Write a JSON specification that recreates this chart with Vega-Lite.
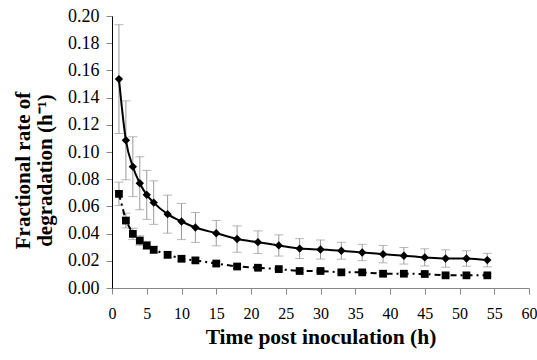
{
  "$schema": "https://vega.github.io/schema/vega-lite/v6.json",
  "autosize": "none",
  "width": 417,
  "height": 272,
  "padding": {"left": 112, "top": 16, "right": 8, "bottom": 72},
  "background": "white",
  "config": {"view": {"stroke": null}, "font": "Liberation Serif"},
  "data": {"values": [
    {"series": "A", "time": 1, "rate": 0.1536, "err": 0.040},
    {"series": "A", "time": 2, "rate": 0.1086, "err": 0.029},
    {"series": "A", "time": 3, "rate": 0.0892, "err": 0.022},
    {"series": "A", "time": 4, "rate": 0.077, "err": 0.0195},
    {"series": "A", "time": 5, "rate": 0.0685, "err": 0.018},
    {"series": "A", "time": 6, "rate": 0.0628, "err": 0.016},
    {"series": "A", "time": 8, "rate": 0.0543, "err": 0.014},
    {"series": "A", "time": 10, "rate": 0.0489, "err": 0.0133},
    {"series": "A", "time": 12, "rate": 0.0445, "err": 0.011},
    {"series": "A", "time": 15, "rate": 0.0403, "err": 0.0093},
    {"series": "A", "time": 18, "rate": 0.036, "err": 0.0097},
    {"series": "A", "time": 21, "rate": 0.0337, "err": 0.0083},
    {"series": "A", "time": 24, "rate": 0.0313, "err": 0.0078},
    {"series": "A", "time": 27, "rate": 0.029, "err": 0.0073},
    {"series": "A", "time": 30, "rate": 0.0283, "err": 0.007},
    {"series": "A", "time": 33, "rate": 0.0274, "err": 0.0062},
    {"series": "A", "time": 36, "rate": 0.0261, "err": 0.006},
    {"series": "A", "time": 39, "rate": 0.0249, "err": 0.0064},
    {"series": "A", "time": 42, "rate": 0.0237, "err": 0.0061},
    {"series": "A", "time": 45, "rate": 0.0225, "err": 0.0063},
    {"series": "A", "time": 48, "rate": 0.0217, "err": 0.0064},
    {"series": "A", "time": 51, "rate": 0.0217, "err": 0.0057},
    {"series": "A", "time": 54, "rate": 0.0205, "err": 0.005},
    {"series": "B", "time": 1, "rate": 0.0692, "err": 0.0086},
    {"series": "B", "time": 2, "rate": 0.0496, "err": 0.0054},
    {"series": "B", "time": 3, "rate": 0.0398, "err": 0.0042},
    {"series": "B", "time": 4, "rate": 0.0349, "err": 0.0035},
    {"series": "B", "time": 5, "rate": 0.0313, "err": 0.003},
    {"series": "B", "time": 6, "rate": 0.0281, "err": 0.0026},
    {"series": "B", "time": 8, "rate": 0.0244, "err": 0.0022},
    {"series": "B", "time": 10, "rate": 0.0215, "err": 0.002},
    {"series": "B", "time": 12, "rate": 0.0203, "err": 0.0018},
    {"series": "B", "time": 15, "rate": 0.018, "err": 0.0015},
    {"series": "B", "time": 18, "rate": 0.0158, "err": 0.0014},
    {"series": "B", "time": 21, "rate": 0.0149, "err": 0.0013},
    {"series": "B", "time": 24, "rate": 0.0139, "err": 0.0012},
    {"series": "B", "time": 27, "rate": 0.0125, "err": 0.0011},
    {"series": "B", "time": 30, "rate": 0.0125, "err": 0.0011},
    {"series": "B", "time": 33, "rate": 0.0115, "err": 0.001},
    {"series": "B", "time": 36, "rate": 0.0115, "err": 0.001},
    {"series": "B", "time": 39, "rate": 0.0105, "err": 0.001},
    {"series": "B", "time": 42, "rate": 0.0105, "err": 0.001},
    {"series": "B", "time": 45, "rate": 0.0103, "err": 0.001},
    {"series": "B", "time": 48, "rate": 0.0093, "err": 0.001},
    {"series": "B", "time": 51, "rate": 0.0093, "err": 0.001},
    {"series": "B", "time": 54, "rate": 0.0093, "err": 0.001}
  ]},
  "encoding": {
    "x": {"field": "time", "type": "quantitative",
      "scale": {"domain": [0, 60], "nice": false},
      "axis": {"values": [0,5,10,15,20,25,30,35,40,45,50,55,60], "grid": false,
        "title": "Time post inoculation (h)", "titleFont": "Liberation Serif", "titleFontSize": 21.5, "titleFontWeight": "bold", "titleColor": "black", "titlePadding": 5,
        "labelFont": "Liberation Serif", "labelFontSize": 16, "labelColor": "black", "labelPadding": 11,
        "domainColor": "#888", "tickColor": "#888", "tickSize": 6, "labelFlush": false}},
    "y": {"field": "rate", "type": "quantitative",
      "scale": {"domain": [0, 0.2], "nice": false},
      "axis": {"values": [0,0.02,0.04,0.06,0.08,0.1,0.12,0.14,0.16,0.18,0.2], "format": ".2f", "grid": false,
        "title": ["Fractional rate of", "degradation (h⁻¹)"], "titleFont": "Liberation Serif", "titleFontSize": 21, "titleFontWeight": "bold", "titleColor": "black", "titleLineHeight": 22,
        "titleAngle": -90, "titleAlign": "center", "titleBaseline": "alphabetic", "titleX": -83, "titleY": 154,
        "labelFont": "Liberation Serif", "labelFontSize": 18, "labelColor": "black", "labelPadding": 7,
        "domainColor": "black", "tickColor": "#888", "tickSize": 6, "labelFlush": false}}
  },
  "layer": [
    {"mark": {"type": "errorbar", "ticks": {"size": 9, "color": "#999", "strokeWidth": 1}, "color": "#999", "strokeWidth": 1},
      "encoding": {"yError": {"field": "err"}, "detail": {"field": "series"}}},
    {"transform": [{"filter": "datum.series == 'A'"}],
      "mark": {"type": "line", "color": "black", "strokeWidth": 2, "interpolate": "monotone"}},
    {"transform": [{"filter": "datum.series == 'B'"}],
      "mark": {"type": "line", "color": "black", "strokeWidth": 2, "strokeDash": [6, 4, 2, 4]}},
    {"transform": [{"filter": "datum.series == 'A'"}],
      "mark": {"type": "point", "shape": "diamond", "filled": true, "color": "black", "size": 70, "opacity": 1}},
    {"transform": [{"filter": "datum.series == 'B'"}],
      "mark": {"type": "point", "shape": "square", "filled": true, "color": "black", "size": 60, "opacity": 1}}
  ]
}
